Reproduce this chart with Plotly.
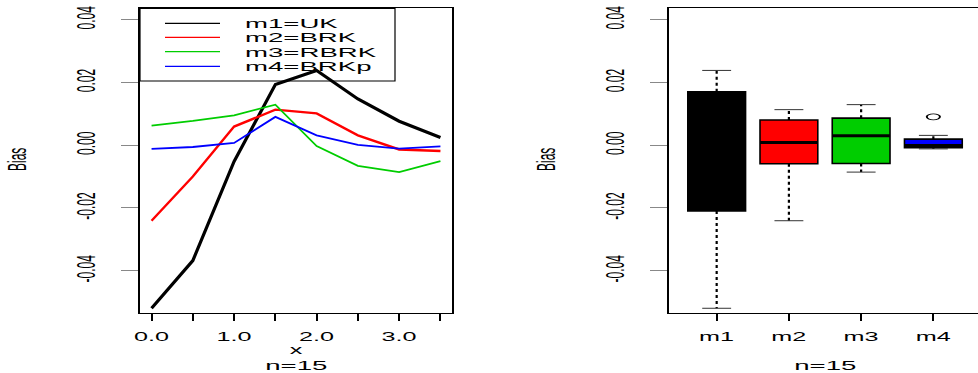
import numpy as np
import plotly.graph_objects as go

# ---------------- data ----------------
x_vals = [0.0, 0.5, 1.0, 1.5, 2.0, 2.5, 3.0, 3.5]
x_tick_labels = ["0.0", "", "1.0", "", "2.0", "", "3.0", ""]
m1 = [-0.0520, -0.0368, -0.0052, 0.0193, 0.0238, 0.0147, 0.0076, 0.0024]
m2 = [-0.0241, -0.0100, 0.0059, 0.0113, 0.0101, 0.0031, -0.0014, -0.0019]
m3 = [0.0062, 0.0077, 0.0095, 0.0129, -0.0003, -0.0066, -0.0086, -0.0051]
m4 = [-0.0012, -0.0006, 0.0007, 0.0090, 0.0031, 0.0001, -0.0011, -0.0004]
method_labels = ["m1", "m2", "m3", "m4"]
legend_labels = ["m1=UK", "m2=BRK", "m3=RBRK", "m4=BRKp"]
y_tick_vals = [-0.04, -0.02, 0.0, 0.02, 0.04]
y_tick_labels = ["-0.04", "-0.02", "0.00", "0.02", "0.04"]
y_title = "Bias"
x_title = "x"
sub_title = "n=15"

series = [m1, m2, m3, m4]
colors = ["#000000", "#FF0000", "#00CD00", "#0000FF"]
line_widths = [3.2, 2.4, 1.8, 1.8]

W, H = 978, 373
FONT = "Liberation Sans, Arial, sans-serif"


def PX(px):
    return px / W


def PY(py):
    return 1 - py / H


def fivenum(v):
    s = np.sort(np.asarray(v, dtype=float))
    n = len(s)
    n4 = np.floor((n + 3) / 2) / 2
    d = np.array([1, n4, (n + 1) / 2, n + 1 - n4, n]) - 1
    return 0.5 * (s[np.floor(d).astype(int)] + s[np.ceil(d).astype(int)])


def box_stats(v):
    mn, lo, med, hi, mx = fivenum(v)
    iqr = hi - lo
    arr = np.asarray(v, dtype=float)
    inside = arr[(arr >= lo - 1.5 * iqr) & (arr <= hi + 1.5 * iqr)]
    out = arr[(arr < lo - 1.5 * iqr) | (arr > hi + 1.5 * iqr)]
    return lo, med, hi, inside.min(), inside.max(), out


fig = go.Figure()

# ---------------- left panel: lines ----------------
for vals, c, lw, name in zip(series, colors, line_widths, legend_labels):
    fig.add_trace(go.Scatter(x=x_vals, y=vals, mode="lines", name=name,
                             line=dict(color=c, width=lw),
                             xaxis="x", yaxis="y", showlegend=False))

# ---------------- right panel: boxplots ----------------
positions = [1, 2, 3, 4]
for pos, vals, c in zip(positions, series, colors):
    q1, med, q3, wlo, whi, out = box_stats(vals)
    # dotted whiskers
    fig.add_trace(go.Scatter(x=[pos, pos, None, pos, pos], y=[q3, whi, None, q1, wlo],
                             mode="lines", line=dict(color="black", width=2.2, dash="3px,3px"),
                             xaxis="x2", yaxis="y2", showlegend=False, hoverinfo="skip"))
    # staples
    fig.add_trace(go.Scatter(x=[pos - 0.2, pos + 0.2, None, pos - 0.2, pos + 0.2],
                             y=[whi, whi, None, wlo, wlo],
                             mode="lines", line=dict(color="#333333", width=1),
                             xaxis="x2", yaxis="y2", showlegend=False, hoverinfo="skip"))
    fig.add_trace(go.Box(x=[pos], q1=[q1], median=[med], q3=[q3],
                         lowerfence=[q1], upperfence=[q3], width=0.8,
                         fillcolor=c, line=dict(color="black", width=1.6),
                         whiskerwidth=0, boxpoints=False,
                         xaxis="x2", yaxis="y2", showlegend=False, name=method_labels[pos - 1]))
    fig.add_trace(go.Scatter(x=[pos - 0.4, pos + 0.4], y=[med, med], mode="lines",
                             line=dict(color="black", width=3),
                             xaxis="x2", yaxis="y2", showlegend=False, hoverinfo="skip"))
    if len(out):
        fig.add_trace(go.Scatter(x=[pos] * len(out), y=list(out), mode="markers",
                                 marker=dict(symbol="circle-open", size=6, color="black",
                                             line=dict(color="black", width=0.9)),
                                 xaxis="x2", yaxis="y2", showlegend=False))

ydom = [PY(313.3), PY(8.3)]
yrange = [-0.0536, 0.0436]

axis_common = dict(showgrid=False, zeroline=False, automargin=False,
                   ticks="outside", showline=True, linecolor="black",
                   tickfont=dict(family=FONT, size=12, color="black"))

fig.update_layout(
    width=W, height=H,
    margin=dict(l=0, r=0, t=0, b=0),
    paper_bgcolor="white", plot_bgcolor="white",
    showlegend=False,
    font=dict(family=FONT, size=12, color="black"),
    xaxis=dict(domain=[PX(140), PX(452)], range=[-0.14, 3.64], anchor="y",
               tickvals=x_vals, ticktext=x_tick_labels, ticklen=7, tickwidth=2,
               tickcolor="black", linewidth=1, mirror=True, ticklabelstandoff=5,
               **axis_common),
    yaxis=dict(domain=ydom, range=yrange, anchor="x",
               tickvals=y_tick_vals, ticktext=y_tick_labels, tickangle=-90,
               ticklen=17, tickwidth=1, tickcolor="#888888", linewidth=2,
               mirror=True, ticklabelstandoff=26, **axis_common),
    xaxis2=dict(domain=[PX(669), 1.0], range=[0.34, 4.618], anchor="y2",
                tickvals=positions, ticktext=method_labels, ticklen=7, tickwidth=2,
                tickcolor="black", linewidth=1, mirror=True, ticklabelstandoff=5,
                **axis_common),
    yaxis2=dict(domain=ydom, range=yrange, anchor="x2",
                tickvals=y_tick_vals, ticktext=y_tick_labels, tickangle=-90,
                ticklen=17, tickwidth=1, tickcolor="#888888", linewidth=2,
                mirror=False, ticklabelstandoff=26, **axis_common),
)

# ---------------- text annotations ----------------
ann = []
ann.append(dict(x=PX(18), y=PY(160), text=y_title, textangle=-90))
ann.append(dict(x=PX(547), y=PY(160), text=y_title, textangle=-90))
ann.append(dict(x=PX(296), y=PY(350), text=x_title))
ann.append(dict(x=PX(296), y=PY(365.5), text=sub_title))
ann.append(dict(x=PX(825), y=PY(365.5), text=sub_title))
legend_rows = [23.3, 37.3, 51.7, 66.3]
for lab, ry in zip(legend_labels, legend_rows):
    ann.append(dict(x=PX(243), y=PY(ry + 1), text=lab, xanchor="left"))
for a in ann:
    a.setdefault("xanchor", "center")
    a.update(xref="paper", yref="paper", yanchor="middle", showarrow=False,
             font=dict(family=FONT, size=12, color="black"))
fig.update_layout(annotations=ann)

# ---------------- manual legend ----------------
shapes = [dict(type="rect", xref="paper", yref="paper", x0=PX(140), x1=PX(395),
               y0=PY(81), y1=PY(8.3), line=dict(color="black", width=1.2),
               fillcolor="rgba(0,0,0,0)")]
for c, ry in zip(colors, legend_rows):
    shapes.append(dict(type="line", xref="paper", yref="paper", x0=PX(165), x1=PX(220),
                       y0=PY(ry), y1=PY(ry), line=dict(color=c, width=1.2)))
fig.update_layout(shapes=shapes)

post = """
document.body.style.margin = '0';
var gd = document.getElementById('{plot_id}');
var svg = gd.querySelector('svg.main-svg');
var S = 2.1;
function stretchEl(el, s, mode) {
  if (!el) return;
  var r = el.getBoundingClientRect();
  if (!r.width) return;
  var P = el.parentNode.getScreenCTM();
  var cx = (mode === 'left') ? r.left : r.left + r.width / 2;
  var M0 = svg.createSVGMatrix().translate(cx, 0).scaleNonUniform(s, 1).translate(-cx, 0);
  var M = P.inverse().multiply(M0.multiply(P));
  var t = el.getAttribute('transform') || '';
  el.setAttribute('transform', 'matrix(' + [M.a, M.b, M.c, M.d, M.e, M.f].join(',') + ') ' + t);
}
gd.querySelectorAll('.xtick text, .x2tick text, .ytick text, .y2tick text').forEach(function(el){ stretchEl(el, S, 'center'); });
gd.querySelectorAll('g.annotation').forEach(function(g){
  var idx = +g.getAttribute('data-index');
  var s = idx >= 5 ? 2.3 : (idx >= 3 ? 2.3 : S);
  stretchEl(g.querySelector('text'), s, idx >= 5 ? 'left' : 'center');
});
gd.querySelectorAll('path.point').forEach(function(el){ stretchEl(el, 2.2, 'center'); });
"""

fig.write_html("out.html", post_script=post, config={"displayModeBar": False})
